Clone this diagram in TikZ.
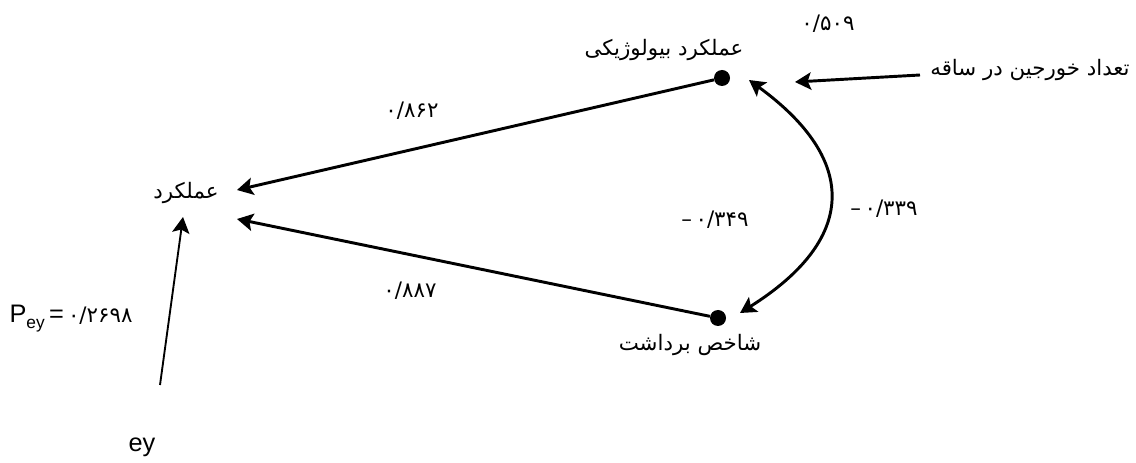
\documentclass[tikz,border=0pt]{standalone}
\usepackage{fontspec}
\setmainfont{Liberation Sans}
\newfontfamily\farsi[Script=Arabic]{DejaVu Sans}
\TeXXeTstate=1
\usetikzlibrary{arrows.meta,calc}

\begin{document}
\begin{tikzpicture}
[x=0.75pt,y=-0.75pt,
  >={Stealth[length=12pt,width=13pt,inset=2.5pt]},
  arrowDecorate/.style={->,line width=2.2pt},
  thinArrowDecorate/.style={->,line width=1.4pt},
  dotDecorate/.style={shape=circle,fill,inner sep=0pt,minimum size=12pt},
  faDecorate/.style={font=\farsi\fontsize{16}{18}\selectfont,inner sep=1pt},
  latinDecorate/.style={font=\fontsize{19}{21}\selectfont,inner sep=1pt}]
\useasboundingbox (0,0) rectangle (1136,463);
%% nodes
\node (bio) at (722,78) [dotDecorate] {};
\node (hi) at (718,318) [dotDecorate] {};
\node (yield) at (186,193) [faDecorate] {\beginR عملکرد\endR};
\node (bioLabel) at (664,50) [faDecorate] {\beginR عملکرد بیولوژیکی\endR};
\node (hiLabel) at (690,345) [faDecorate] {\beginR شاخص برداشت\endR};
\node (pods) at (1030,70) [faDecorate] {\beginR تعداد خورجین در ساقه\endR};
\node (ey) at (142,447) [latinDecorate] {ey};
%% coefficients
\node (bioErr) at (828,24) [faDecorate] {۰/۵۰۹};
\node (bioPath) at (412,111) [faDecorate] {۰/۸۶۲};
\node (hiPath) at (410,291) [faDecorate] {۰/۸۸۷};
\node (hiCorr) at (715,220) [faDecorate] {–\,۰/۳۴۹};
\node (podsCorr) at (884,209) [faDecorate] {–\,۰/۳۳۹};
\node (pey) at (8,323) [latinDecorate,anchor=base west]
  {P\raisebox{-4pt}{\fontsize{13}{14}\selectfont ey}\,=\,{\farsi\fontsize{16}{18}\selectfont ۰/۲۶۹۸}};
%% edges
\draw[arrowDecorate] (bio) -- ($(yield.center)+(51,-3)$);
\draw[arrowDecorate] (hi) -- ($(yield.center)+(51,26)$);
\draw[arrowDecorate] ($(pods.center)+(-110,5)$) -- ($(bio.center)+(73,4)$);
\draw[arrowDecorate,<->] ($(bio.center)+(27,2)$)
  .. controls +(111,81) and +(116,-73) .. ($(hi.center)+(22,-5)$);
\draw[thinArrowDecorate] ($(ey.center)+(18,-62)$) -- ($(yield.center)+(-3,24)$);
\end{tikzpicture}
\end{document}
